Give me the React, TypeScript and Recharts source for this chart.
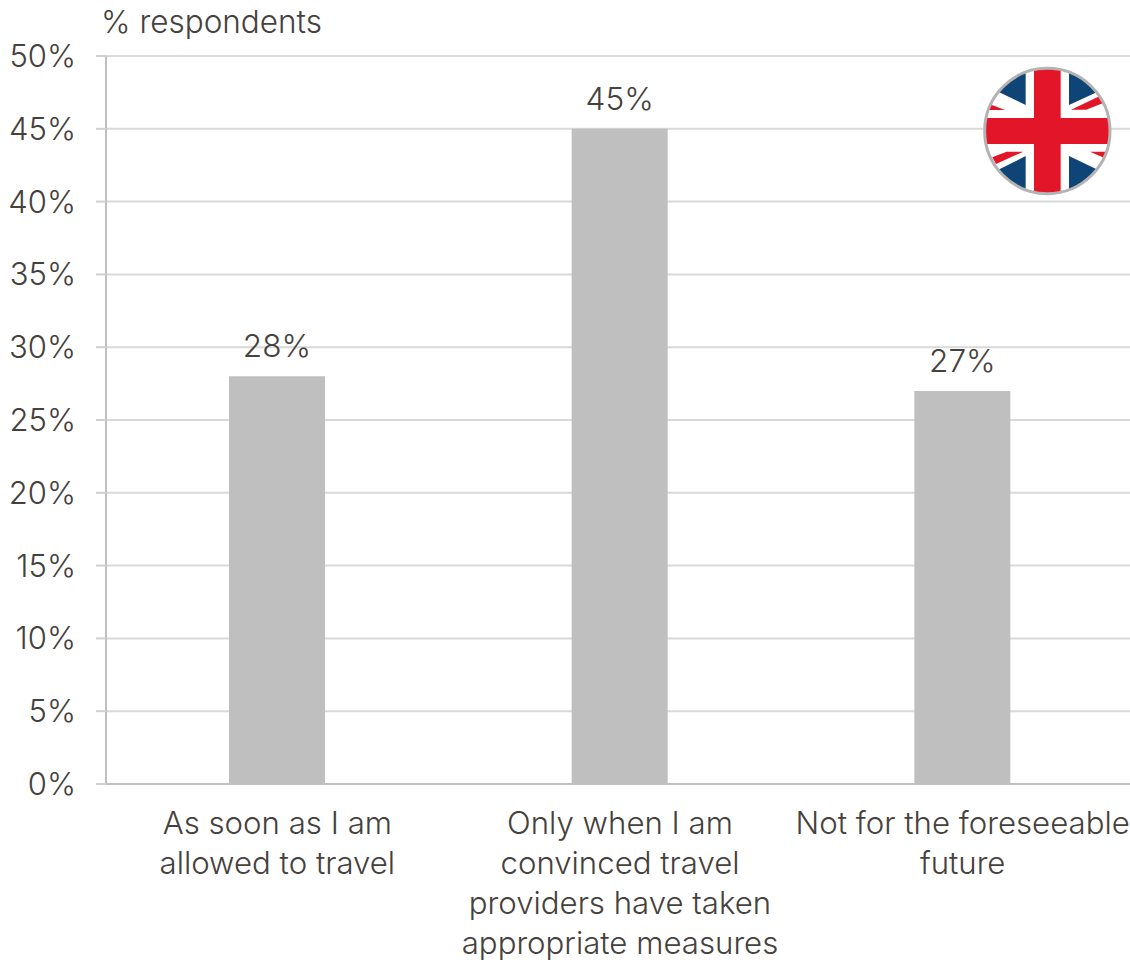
import { BarChart, Bar, XAxis, YAxis, CartesianGrid, LabelList } from 'recharts';

const categories = [
  'As soon as I am\nallowed to travel',
  'Only when I am\nconvinced travel\nproviders have taken\nappropriate measures',
  'Not for the foreseeable\nfuture',
];
const shares = [28, 45, 27];
const yTicks = [0, 5, 10, 15, 20, 25, 30, 35, 40, 45, 50];

const chartData = categories.map((name, i) => ({ name, share: shares[i] }));

const FONT = 'Inter, sans-serif';
const TEXT_COLOR = '#45413d';

// category labels are stacked by hand, one tspan per line
function CategoryTick({ x, y, payload }: any) {
  const lines = String(payload.value).split('\n');
  return (
    <text x={x} y={y} textAnchor="middle" fill={TEXT_COLOR} fontFamily={FONT} fontWeight={300} fontSize={31.2}>
      {lines.map((line, i) => (
        <tspan key={line} x={x} dy={i === 0 ? 0 : 40}>
          {line}
        </tspan>
      ))}
    </text>
  );
}

// round UK flag in the top right corner
function FlagBadge() {
  return (
    <svg
      width={170}
      height={160}
      viewBox="0 0 510 480"
      style={{ position: 'absolute', left: 960, top: 50 }}
    >
      <defs>
        <clipPath id="flag-disc">
          <circle cx={262} cy={243} r={188} />
        </clipPath>
      </defs>
      <circle cx={262} cy={243} r={188} fill="#ffffff" />
      <g clipPath="url(#flag-disc)">
        <polygon points="197,165 118,127 80,90 197,40" fill="#0f4477" />
        <polygon points="327,165 410,127 445,90 327,40" fill="#0f4477" />
        <polygon points="197,318 118,358 85,400 197,445" fill="#0f4477" />
        <polygon points="327,318 410,358 445,400 327,445" fill="#0f4477" />
        <polygon points="333,179 415,140 428,160 378,179" fill="#e31629" />
        <polygon points="190,305 140,305 97,322 108,342" fill="#e31629" />
        <polygon points="90,163 135,180 80,180" fill="#e31629" />
        <polygon points="390,305 445,305 435,325" fill="#e31629" />
        <rect x={222} y={40} width={80} height={400} fill="#e31629" />
        <rect x={60} y={204} width={400} height={78} fill="#e31629" />
      </g>
      <circle cx={262} cy={243} r={188} fill="none" stroke="#b3b3b3" strokeWidth={9} />
    </svg>
  );
}

export default function App() {
  return (
    <div
      style={{
        position: 'absolute',
        left: 0,
        top: 0,
        width: 1130,
        height: 962,
        overflow: 'hidden',
        background: '#ffffff',
      }}
    >
      <BarChart
        width={1134}
        height={962}
        data={chartData}
        margin={{ top: 56, right: 0, bottom: 0, left: 0 }}
        barSize={96}
      >
        <CartesianGrid vertical={false} stroke="#d9d9d9" strokeWidth={2} />
        <XAxis
          dataKey="name"
          interval={0}
          height={178}
          axisLine={{ stroke: '#bfbfbf', strokeWidth: 2 }}
          tickLine={false}
          tick={<CategoryTick />}
          tickMargin={44}
        />
        <YAxis
          width={106}
          domain={[0, 50]}
          ticks={yTicks}
          interval={0}
          tickFormatter={(v: number) => `${v}%`}
          axisLine={{ stroke: '#bfbfbf', strokeWidth: 2 }}
          tickLine={{ stroke: '#d0d0d0', strokeWidth: 2 }}
          tickSize={10}
          tickMargin={20}
          tick={{ fill: TEXT_COLOR, fontFamily: FONT, fontWeight: 300, fontSize: 31 }}
        />
        <Bar dataKey="share" fill="#bfbfbf" isAnimationActive={false}>
          <LabelList
            dataKey="share"
            position="top"
            offset={19}
            formatter={(v: number) => `${v}%`}
            fill={TEXT_COLOR}
            fontFamily={FONT}
            fontWeight={300}
            fontSize={31.6}
          />
        </Bar>
        <text x={101} y={33} fill={TEXT_COLOR} fontFamily={FONT} fontWeight={300} fontSize={31.5}>
          % respondents
        </text>
      </BarChart>
      <FlagBadge />
    </div>
  );
}
